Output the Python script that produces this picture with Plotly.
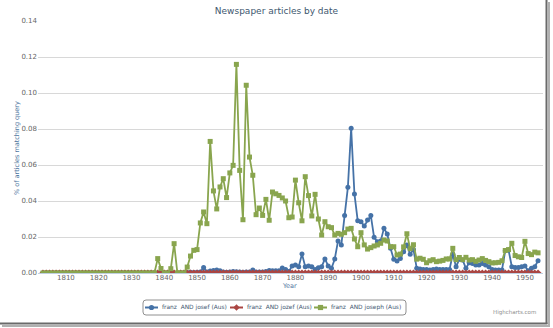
import plotly.graph_objects as go

# ---------------- data ----------------
years = list(range(1803, 1955))

josef = [
    0, 0, 0, 0, 0, 0, 0,                                                    # 1803-1809
    0, 0, 0, 0, 0, 0, 0, 0, 0, 0,                                           # 1810s
    0, 0, 0, 0, 0, 0, 0, 0, 0, 0,                                           # 1820s
    0, 0, 0, 0, 0, 0, 0, 0, 0, 0,                                           # 1830s
    0, 0, 0, 0, 0, 0, 0, 0.0003, 0.0004, 0.0003,                            # 1840s
    0.0004, 0.0005, 0.0030, 0.0006, 0.0011, 0.0014, 0.0017, 0.0012, 0.0005, 0.0004,  # 1850s
    0.0006, 0.0009, 0.0007, 0.0005, 0.0004, 0.0005, 0.0006, 0.0016, 0.0006, 0.0005,  # 1860s
    0.0006, 0.0008, 0.0014, 0.0013, 0.0012, 0.0013, 0.0028, 0.0019, 0.0009, 0.0039,  # 1870s
    0.0044, 0.0035, 0.0106, 0.0035, 0.0039, 0.0035, 0.0020, 0.0029, 0.0035, 0.0078,  # 1880s
    0.0039, 0.0026, 0.0078, 0.0178, 0.0156, 0.0319, 0.0476, 0.0804, 0.0439, 0.0290,  # 1890s
    0.0285, 0.0261, 0.0294, 0.0319, 0.0198, 0.0174, 0.0178, 0.0248, 0.0217, 0.0137,  # 1900s
    0.0076, 0.0067, 0.0081, 0.0118, 0.0156, 0.0104, 0.0131, 0.0026, 0.0022, 0.0020,  # 1910s
    0.0020, 0.0017, 0.0020, 0.0022, 0.0020, 0.0020, 0.0020, 0.0020, 0.0104, 0.0035,  # 1920s
    0.0076, 0.0072, 0.0026, 0.0057, 0.0053, 0.0044, 0.0044, 0.0053, 0.0044, 0.0035,  # 1930s
    0.0020, 0.0017, 0.0017, 0.0017, 0.0124, 0.0128, 0.0035, 0.0030, 0.0031, 0.0035,  # 1940s
    0.0039, 0.0013, 0.0026, 0.0035, 0.0068,                                  # 1950-1954
]

jozef = [
    0, 0, 0, 0, 0, 0, 0,
    0, 0, 0, 0, 0, 0, 0, 0, 0, 0,
    0, 0, 0, 0, 0, 0, 0, 0, 0, 0,
    0, 0, 0, 0, 0, 0, 0, 0, 0, 0,
    0, 0, 0, 0, 0, 0, 0, 0, 0, 0,
    0, 0, 0, 0, 0, 0, 0, 0, 0, 0,
    0, 0, 0, 0, 0, 0, 0, 0, 0, 0,
    0, 0, 0, 0, 0, 0, 0, 0, 0, 0,
    0, 0, 0, 0, 0, 0, 0, 0, 0, 0,
    0, 0, 0, 0, 0, 0, 0, 0, 0, 0,
    0, 0, 0, 0, 0, 0, 0, 0, 0, 0,
    0, 0, 0, 0, 0, 0, 0, 0, 0, 0,
    0, 0, 0, 0, 0, 0, 0, 0, 0, 0,
    0, 0, 0, 0, 0, 0, 0, 0, 0, 0,
    0, 0, 0, 0, 0, 0, 0, 0, 0, 0,
    0, 0, 0, 0, 0,
]

joseph = [
    0, 0, 0, 0, 0, 0, 0,                                                    # 1803-1809
    0, 0, 0, 0, 0, 0, 0, 0, 0, 0,                                           # 1810s
    0, 0, 0, 0, 0, 0, 0, 0, 0, 0,                                           # 1820s
    0, 0, 0, 0, 0, 0, 0, 0, 0.0080, 0.0025,                                 # 1830s
    0, 0, 0.0024, 0.0163, 0, 0, 0, 0.0033, 0.0094, 0.0126,                  # 1840s
    0.0130, 0.0278, 0.0339, 0.0274, 0.0731, 0.0456, 0.0356, 0.0478, 0.0524, 0.0419,  # 1850s
    0.0556, 0.0598, 0.1159, 0.0570, 0.0296, 0.1043, 0.0644, 0.0543, 0.0324, 0.0361,  # 1860s
    0.0320, 0.0409, 0.0293, 0.0450, 0.0440, 0.0431, 0.0417, 0.0400, 0.0307, 0.0311,  # 1870s
    0.0516, 0.0390, 0.0290, 0.0535, 0.0430, 0.0317, 0.0437, 0.0300, 0.0211, 0.0285,  # 1880s
    0.0257, 0.0252, 0.0211, 0.0220, 0.0215, 0.0224, 0.0244, 0.0248, 0.0189, 0.0146,  # 1890s
    0.0224, 0.0156, 0.0133, 0.0141, 0.0150, 0.0156, 0.0165, 0.0183, 0.0178, 0.0146,  # 1900s
    0.0146, 0.0100, 0.0105, 0.0145, 0.0218, 0.0135, 0.0157, 0.0077, 0.0082, 0.0076,  # 1910s
    0.0057, 0.0068, 0.0074, 0.0063, 0.0066, 0.0070, 0.0078, 0.0078, 0.0137, 0.0074,  # 1920s
    0.0086, 0.0074, 0.0087, 0.0072, 0.0074, 0.0065, 0.0072, 0.0080, 0.0070, 0.0063,  # 1930s
    0.0056, 0.0057, 0.0059, 0.0068, 0.0125, 0.0130, 0.0165, 0.0097, 0.0090, 0.0086,  # 1940s
    0.0176, 0.0108, 0.0102, 0.0116, 0.0112,                                  # 1950-1954
]

series_names = ["franz  AND josef (Aus)", "franz  AND jozef (Aus)", "franz  AND joseph (Aus)"]
series_colors = ["#4572A7", "#AA4643", "#89A54E"]
series_symbols = ["circle", "diamond", "square"]

x_ticks = list(range(1810, 1951, 10))
y_ticks = [0.00, 0.02, 0.04, 0.06, 0.08, 0.10, 0.12, 0.14]

# ---------------- figure ----------------
W, H = 553, 328
L, R, T, B = 38, 10, 21, 55
pw, ph = W - L - R, H - T - B


def px(xp):
    return (xp - L) / pw


def py(yp):
    return (H - B - yp) / ph


fig = go.Figure()
for name, vals, col, sym in zip(series_names, [josef, jozef, joseph], series_colors, series_symbols):
    fig.add_trace(go.Scatter(
        x=years, y=vals, name=name, mode="lines+markers",
        line=dict(color=col, width=1.8),
        marker=dict(color=col, symbol=sym, size=5 if sym != "diamond" else 5.5),
        showlegend=False,
    ))

font_family = "DejaVu Sans, Verdana, sans-serif"

# ---- custom legend (box, symbols, labels) ----
shapes = []
annotations = []
lx0, lx1, ly0, ly1, rad = 143, 406, 300, 315, 3
legend_path = (
    f"M {px(lx0 + rad)} {py(ly0)} L {px(lx1 - rad)} {py(ly0)} Q {px(lx1)} {py(ly0)} {px(lx1)} {py(ly0 + rad)} "
    f"L {px(lx1)} {py(ly1 - rad)} Q {px(lx1)} {py(ly1)} {px(lx1 - rad)} {py(ly1)} "
    f"L {px(lx0 + rad)} {py(ly1)} Q {px(lx0)} {py(ly1)} {px(lx0)} {py(ly1 - rad)} "
    f"L {px(lx0)} {py(ly0 + rad)} Q {px(lx0)} {py(ly0)} {px(lx0 + rad)} {py(ly0)} Z"
)
shapes.append(dict(type="path", xref="paper", yref="paper", path=legend_path,
                   line=dict(color="#909090", width=1), fillcolor="white"))
item_x = [145, 230, 314]
cy = 307.5
for xs, name, col, sym in zip(item_x, series_names, series_colors, series_symbols):
    shapes.append(dict(type="line", xref="paper", yref="paper", x0=px(xs), x1=px(xs + 13),
                       y0=py(cy), y1=py(cy), line=dict(color=col, width=2)))
    mx = xs + 6.5
    r = 2.6
    if sym == "circle":
        shapes.append(dict(type="circle", xref="paper", yref="paper", x0=px(mx - r), x1=px(mx + r),
                           y0=py(cy - r), y1=py(cy + r), fillcolor=col, line=dict(width=0)))
    elif sym == "square":
        shapes.append(dict(type="rect", xref="paper", yref="paper", x0=px(mx - r), x1=px(mx + r),
                           y0=py(cy - r), y1=py(cy + r), fillcolor=col, line=dict(width=0)))
    else:
        r2 = 3.2
        shapes.append(dict(type="path", xref="paper", yref="paper",
                           path=f"M {px(mx)} {py(cy - r2)} L {px(mx + r2)} {py(cy)} L {px(mx)} {py(cy + r2)} L {px(mx - r2)} {py(cy)} Z",
                           fillcolor=col, line=dict(width=0)))
    annotations.append(dict(text=name, x=px(xs + 14.5), y=py(cy), xref="paper", yref="paper",
                            xanchor="left", yanchor="middle", showarrow=False,
                            font=dict(size=5.9, color="#3E576F")))

annotations += [
    dict(text="% of articles matching query", x=px(11), y=py(148), xref="paper", yref="paper",
         showarrow=False, textangle=-90, font=dict(size=6.5, color="#4D759E")),
    dict(text="Year", x=px(289), y=py(291.5), xref="paper", yref="paper",
         showarrow=False, font=dict(size=6.5, color="#4D759E")),
    dict(text="Highcharts.com", x=px(538), y=py(318), xref="paper", yref="paper",
         xanchor="right", showarrow=False, font=dict(size=5.5, color="#909090")),
]

shapes += [
    dict(type="line", xref="paper", yref="paper", x0=px(546.5), x1=px(546.5), y0=py(0), y1=py(324),
         line=dict(color="#6a6a6a", width=2)),
    dict(type="line", xref="paper", yref="paper", x0=px(549), x1=px(549), y0=py(2), y1=py(326),
         line=dict(color="#b0b0b0", width=2)),
    dict(type="line", xref="paper", yref="paper", x0=px(0), x1=px(547.5), y0=py(323.5), y1=py(323.5),
         line=dict(color="#6a6a6a", width=2)),
    dict(type="line", xref="paper", yref="paper", x0=px(2), x1=px(550), y0=py(326), y1=py(326),
         line=dict(color="#b0b0b0", width=2)),
]

fig.update_layout(
    width=W, height=H,
    margin=dict(l=L, r=R, t=T, b=B, autoexpand=False),
    paper_bgcolor="white", plot_bgcolor="white",
    font=dict(family=font_family, size=7, color="#666666"),
    title=dict(text="Newspaper articles by date", x=0.5, xref="container", xanchor="center",
               y=1 - 11 / H, yref="container", yanchor="middle",
               font=dict(size=9, color="#3E576F", family=font_family)),
    showlegend=False,
    xaxis=dict(range=[1801.49, 1955.51], tickvals=x_ticks, ticktext=[str(v) for v in x_ticks],
               showgrid=False, zeroline=False, showline=True, linecolor="#C0D0E0", linewidth=1,
               ticks="", ticklabelstandoff=-2, tickfont=dict(size=7, color="#666666")),
    yaxis=dict(range=[0, 0.14], tickvals=y_ticks, ticktext=[f"{v:.2f}" for v in y_ticks],
               showgrid=True, gridcolor="#D8D8D8", gridwidth=1, zeroline=False, showline=False,
               ticks="", tickfont=dict(size=7, color="#666666")),
    annotations=annotations,
    shapes=shapes,
)

fig.write_html("out.html")
